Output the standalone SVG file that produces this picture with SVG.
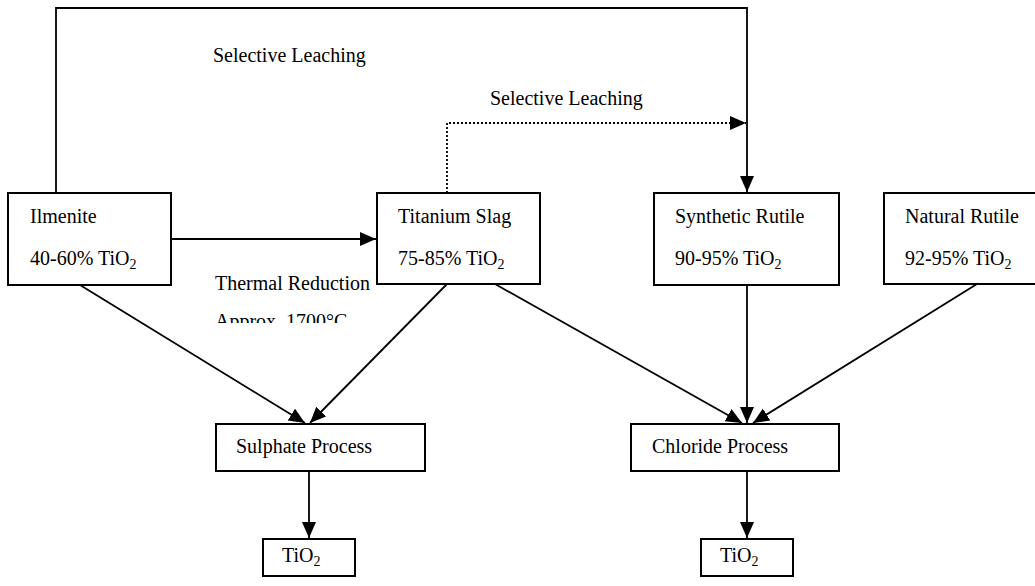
<svg xmlns="http://www.w3.org/2000/svg" width="1035" height="586" viewBox="0 0 1035 586">
<style>
.box{fill:#fff;stroke:#000;stroke-width:2}
.t{font-family:"Liberation Serif",serif;font-size:20px;fill:#000}
.sub{font-size:14px}
.ln{fill:none;stroke:#000;stroke-width:1.8}
.dot{fill:none;stroke:#000;stroke-width:1.8;stroke-dasharray:2,2}
</style>
<defs>
<marker id="ah" markerUnits="userSpaceOnUse" markerWidth="17" markerHeight="15" refX="16" refY="7" orient="auto">
<path d="M0,0 L16,7 L0,14 z" fill="#000"/>
</marker>
<clipPath id="clipA"><rect x="0" y="300" width="400" height="23"/></clipPath>
</defs>
<rect width="1035" height="586" fill="#fff"/>
<g id="connectors">
<polyline class="ln" points="56,193 56,8 747,8 747,192" marker-end="url(#ah)"/>
<polyline class="dot" points="447,193 447,123 746,123" marker-end="url(#ah)"/>
<line class="ln" x1="171" y1="239" x2="376" y2="239" marker-end="url(#ah)"/>
<line class="ln" x1="80" y1="285" x2="305" y2="423" marker-end="url(#ah)"/>
<line class="ln" x1="447" y1="284" x2="310" y2="423" marker-end="url(#ah)"/>
<line class="ln" x1="495" y1="284" x2="742" y2="423" marker-end="url(#ah)"/>
<line class="ln" x1="747" y1="285" x2="747" y2="423" marker-end="url(#ah)"/>
<line class="ln" x1="977" y1="284" x2="753" y2="423" marker-end="url(#ah)"/>
<line class="ln" x1="309" y1="471" x2="309" y2="538" marker-end="url(#ah)"/>
<line class="ln" x1="747" y1="471" x2="747" y2="538" marker-end="url(#ah)"/>
<text class="t" x="213" y="62">Selective Leaching</text>
<text class="t" x="490" y="105">Selective Leaching</text>
<text class="t" x="215" y="290">Thermal Reduction</text>
<text class="t" x="215" y="328" clip-path="url(#clipA)">Approx. 1700°C</text>
</g>
<g id="ilmenite">
<rect class="box" x="8" y="193" width="163" height="92"/>
<text class="t" x="30" y="223">Ilmenite</text>
<text class="t" x="30" y="265">40-60% TiO<tspan class="sub" dy="4">2</tspan></text>
</g>
<g id="titanium-slag">
<rect class="box" x="377" y="193" width="163" height="91"/>
<text class="t" x="398" y="223">Titanium Slag</text>
<text class="t" x="398" y="265">75-85% TiO<tspan class="sub" dy="4">2</tspan></text>
</g>
<g id="synthetic-rutile">
<rect class="box" x="654" y="193" width="185" height="92"/>
<text class="t" x="675" y="223">Synthetic Rutile</text>
<text class="t" x="675" y="265">90-95% TiO<tspan class="sub" dy="4">2</tspan></text>
</g>
<g id="natural-rutile">
<rect class="box" x="884" y="193" width="160" height="91"/>
<text class="t" x="905" y="223">Natural Rutile</text>
<text class="t" x="905" y="265">92-95% TiO<tspan class="sub" dy="4">2</tspan></text>
</g>
<g id="sulphate-process">
<rect class="box" x="216" y="424" width="209" height="47"/>
<text class="t" x="236" y="453">Sulphate Process</text>
</g>
<g id="chloride-process">
<rect class="box" x="631" y="424" width="208" height="47"/>
<text class="t" x="652" y="453">Chloride Process</text>
</g>
<g id="tio2-sulphate">
<rect class="box" x="263" y="539" width="92" height="37"/>
<text class="t" x="282" y="562">TiO<tspan class="sub" dy="4">2</tspan></text>
</g>
<g id="tio2-chloride">
<rect class="box" x="701" y="539" width="92" height="37"/>
<text class="t" x="720" y="562">TiO<tspan class="sub" dy="4">2</tspan></text>
</g>
</svg>
